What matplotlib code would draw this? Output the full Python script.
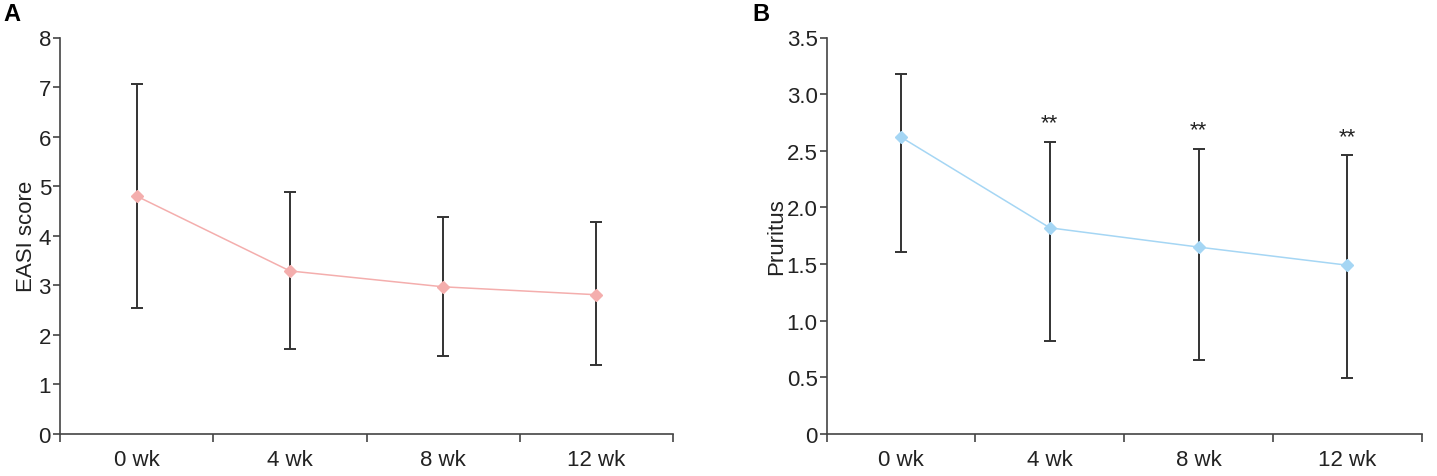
import matplotlib

matplotlib.use("Agg")

import matplotlib.pyplot as plt
from matplotlib.ticker import FixedLocator, FuncFormatter

plt.rcParams["font.family"] = ["Liberation Sans", "DejaVu Sans"]

weeks = ["0 wk", "4 wk", "8 wk", "12 wk"]

easi_mean = [4.80, 3.29, 2.97, 2.81]
easi_upper = [7.07, 4.89, 4.37, 4.27]
easi_lower = [2.54, 1.71, 1.58, 1.39]

pruritus_mean = [2.62, 1.82, 1.65, 1.49]
pruritus_upper = [3.18, 2.58, 2.52, 2.46]
pruritus_lower = [1.61, 0.82, 0.65, 0.49]
pruritus_marks = ["", "**", "**", "**"]

W, H = 1437, 477
fig = plt.figure(figsize=(W / 100, H / 100), dpi=100)
fig.patch.set_facecolor("white")

AXIS_COLOR = "#444444"
TEXT_COLOR = "#222222"
FS = 16


def draw_panel(ax, mean, upper, lower, color, ymax, yticks, ylabel, fmt, labelpad):
    x = list(range(len(weeks)))
    yerr = [[m - lo for m, lo in zip(mean, lower)], [u - m for m, u in zip(mean, upper)]]
    ax.errorbar(x, mean, yerr=yerr, fmt="none", ecolor="#333333", elinewidth=1.4,
                capsize=4.3, capthick=1.4, zorder=2)
    ax.plot(x, mean, color=color, linewidth=1.1, marker="D", markersize=6,
            markerfacecolor=color, markeredgecolor=color, zorder=3)

    ax.set_xlim(-0.5, len(weeks) - 0.5)
    ax.set_ylim(0, ymax)
    ax.set_xticks(x)
    ax.set_xticklabels(weeks)
    ax.xaxis.set_minor_locator(FixedLocator([i - 0.5 for i in range(len(weeks) + 1)]))
    ax.tick_params(axis="x", which="major", length=0, pad=11, labelsize=FS, labelcolor=TEXT_COLOR)
    ax.tick_params(axis="x", which="minor", length=6, width=1.2, color=AXIS_COLOR, direction="out")
    ax.set_yticks(yticks)
    ax.yaxis.set_major_formatter(FuncFormatter(fmt))
    ax.tick_params(axis="y", length=5, width=1.2, color=AXIS_COLOR, pad=1.5,
                   labelsize=FS, labelcolor=TEXT_COLOR)
    for side in ("top", "right"):
        ax.spines[side].set_visible(False)
    for side in ("left", "bottom"):
        ax.spines[side].set_color(AXIS_COLOR)
        ax.spines[side].set_linewidth(1.2)
    ax.set_ylabel(ylabel, fontsize=FS, color=TEXT_COLOR, labelpad=labelpad)


ax_a = fig.add_axes([60 / W, 42 / H, 613 / W, 396.5 / H])
draw_panel(ax_a, easi_mean, easi_upper, easi_lower, "#F4AEAD", 8, range(0, 9),
           "EASI score", lambda v, p: f"{v:g}", 1)

ax_b = fig.add_axes([826.7 / W, 42 / H, 595 / W, 396.5 / H])
draw_panel(ax_b, pruritus_mean, pruritus_upper, pruritus_lower, "#A5D6F4", 3.5,
           [0, 0.5, 1, 1.5, 2, 2.5, 3, 3.5], "Pruritus",
           lambda v, p: "0" if v == 0 else f"{v:.1f}", 0)

for i, (mark, top) in enumerate(zip(pruritus_marks, pruritus_upper)):
    if mark:
        ax_b.annotate(mark, xy=(i, top), xytext=(0, 6), textcoords="offset points",
                      ha="center", va="bottom", fontsize=16, color=TEXT_COLOR)

fig.text(3 / W, 1 - 3 / H, "A", fontsize=17, fontweight="bold", va="top", ha="left")
fig.text(752 / W, 1 - 3 / H, "B", fontsize=17, fontweight="bold", va="top", ha="left")

fig.savefig("out.png", dpi=100, facecolor="white")
